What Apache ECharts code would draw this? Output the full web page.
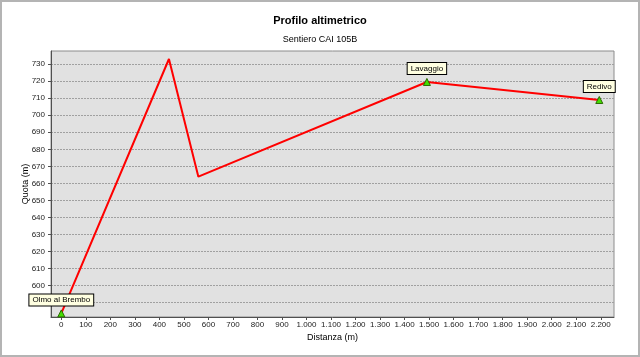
<!DOCTYPE html>
<html>
<head>
<meta charset="utf-8">
<script src="https://cdn.jsdelivr.net/npm/echarts@6/dist/echarts.min.js"></script>
<style>
html,body{margin:0;padding:0;background:#fff;}
#chart{width:640px;height:357px;}
</style>
</head>
<body>
<div id="chart"></div>
<script>
// Data
var distances = [0, 439, 559, 1491, 2194];          // Distanza (m)
var altitudes = [583.5, 733.1, 663.9, 719.6, 709.0]; // Quota (m)
var pointNames = ['Olmo al Brembo', '', '', 'Lavaggio', 'Redivo'];

// Tick values
var xTicks = [0, 100, 200, 300, 400, 500, 600, 700, 800, 900, 1000, 1100,
              1200, 1300, 1400, 1500, 1600, 1700, 1800, 1900, 2000, 2100, 2200];
var yTicks = [590, 600, 610, 620, 630, 640, 650, 660, 670, 680, 690, 700, 710, 720, 730];
var yLabels = [600, 610, 620, 630, 640, 650, 660, 670, 680, 690, 700, 710, 720, 730];

var titleText = 'Profilo altimetrico';
var subtitleText = 'Sentiero CAI 105B';
var xAxisName = 'Distanza (m)';
var yAxisName = 'Quota (m)';

var FONT = '"Liberation Sans", Arial, sans-serif';

var seriesData = distances.map(function (d, i) {
  var name = pointNames[i];
  return {
    value: [d, altitudes[i]],
    name: name,
    symbol: name ? 'triangle' : 'none',
    label: { show: !!name }
  };
});

function thousands(v) {
  var s = String(Math.round(v));
  return s.replace(/\B(?=(\d{3})+(?!\d))/g, '.');
}

var chart = echarts.init(document.getElementById('chart'), null, { renderer: 'canvas' });
chart.setOption({
  animation: false,
  backgroundColor: '#ffffff',
  textStyle: { fontFamily: FONT },
  graphic: [{
    type: 'rect',
    shape: { x: 1, y: 1, width: 638, height: 355 },
    style: { fill: 'none', stroke: '#b4b4b4', lineWidth: 2 },
    silent: true,
    z: 100
  }],
  title: [{
    text: titleText,
    left: 'center',
    top: 10,
    textStyle: { fontFamily: FONT, fontSize: 11, fontWeight: 'bold', color: '#000' }
  }, {
    text: subtitleText,
    left: 'center',
    top: 30,
    textStyle: { fontFamily: FONT, fontSize: 9, fontWeight: 'normal', color: '#000' }
  }],
  grid: {
    left: 51, top: 51, right: 26, bottom: 40,
    show: true,
    backgroundColor: '#e1e1e1',
    borderColor: '#8c8c8c',
    borderWidth: 1
  },
  xAxis: {
    type: 'value',
    min: -42, max: 2254,
    minInterval: 100, maxInterval: 100,
    name: xAxisName,
    nameLocation: 'middle',
    nameGap: 16,
    nameMoveOverlap: false,
    nameTextStyle: { fontFamily: FONT, fontSize: 9, color: '#000' },
    axisLine: { show: true, onZero: false, lineStyle: { color: '#505050', width: 1 } },
    axisTick: { show: true, length: 3, customValues: xTicks, lineStyle: { color: '#505050' } },
    axisLabel: {
      fontFamily: FONT, fontSize: 8, color: '#222', margin: 4,
      customValues: xTicks,
      formatter: function (v) { return thousands(v); }
    },
    splitLine: { show: false }
  },
  yAxis: {
    type: 'value',
    min: 581.4, max: 737.8,
    minInterval: 10, maxInterval: 10,
    name: yAxisName,
    nameLocation: 'middle',
    nameGap: 21,
    nameRotate: 90,
    nameMoveOverlap: false,
    nameTextStyle: { fontFamily: FONT, fontSize: 9, color: '#000' },
    axisLine: { show: true, onZero: false, lineStyle: { color: '#505050', width: 1 } },
    axisTick: { show: true, length: 3, customValues: yTicks, lineStyle: { color: '#505050' } },
    axisLabel: {
      fontFamily: FONT, fontSize: 8, color: '#222', margin: 6,
      customValues: yLabels,
      formatter: function (v) { return String(Math.round(v)); }
    },
    splitLine: { show: true, lineStyle: { color: '#a0a0a0', type: [2, 1], width: 1 } }
  },
  series: [{
    type: 'line',
    data: seriesData,
    symbolSize: 7,
    showAllSymbol: true,
    lineStyle: { color: '#ff0000', width: 2 },
    itemStyle: { color: '#44dd00', borderColor: '#2a6a00', borderWidth: 1 },
    label: {
      position: 'top',
      distance: 4,
      formatter: function (p) { return p.name; },
      fontFamily: FONT, fontSize: 8, color: '#000',
      backgroundColor: '#ffffe1',
      borderColor: '#000', borderWidth: 1,
      padding: [1, 3],
      lineHeight: 9
    },
    z: 3
  }]
});
</script>
</body>
</html>
